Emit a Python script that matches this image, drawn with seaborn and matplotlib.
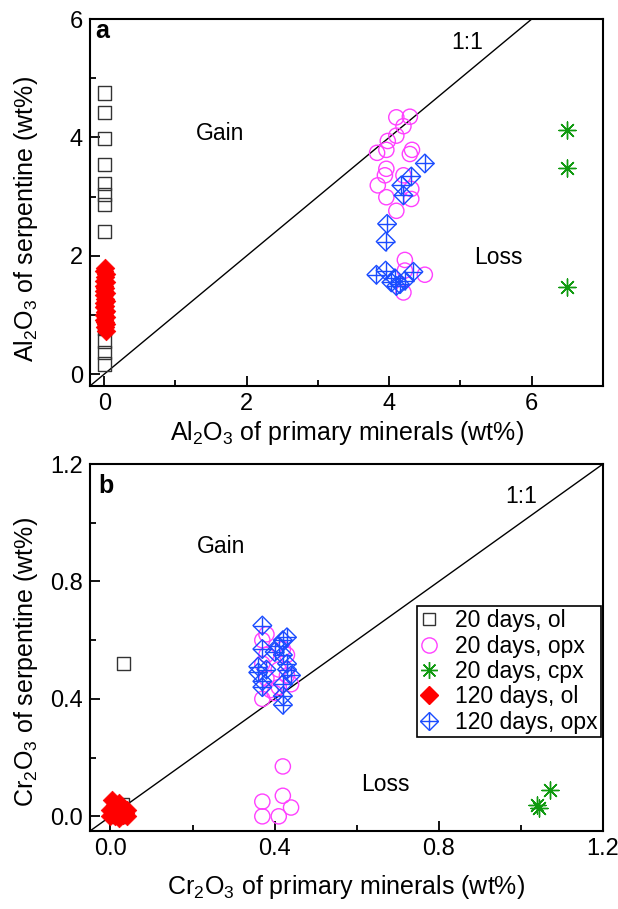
import matplotlib
matplotlib.use("Agg")
import matplotlib.pyplot as plt
from matplotlib.lines import Line2D
from matplotlib.legend_handler import HandlerTuple
from matplotlib.ticker import MultipleLocator, FormatStrFormatter
import seaborn as sns
import pandas as pd

# ---------------- Al2O3 (panel a) ----------------
al_ol20_x = [0.0, 0.0, 0.0, 0.0, 0.0, 0.0, 0.0, 0.0, 0.0, 0.0, 0.0, 0.0]
al_ol20_y = [4.75, 4.42, 3.98, 3.54, 3.22, 3.03, 2.86, 2.41, 0.78, 0.56, 0.37, 0.17]

al_opx20_x = [4.10, 4.29, 4.20, 4.10, 3.98, 3.96, 3.83, 4.29, 4.32, 3.96, 3.94,
              3.84, 4.20, 4.31, 3.96, 4.31, 4.10, 4.22, 4.50, 4.20, 4.22]
al_opx20_y = [4.34, 4.35, 4.19, 4.03, 3.94, 3.79, 3.74, 3.72, 3.79, 3.47, 3.36,
              3.19, 3.36, 3.13, 2.99, 2.96, 2.76, 1.93, 1.68, 1.38, 1.75]

al_cpx20_x = [6.50, 6.49, 6.50]
al_cpx20_y = [4.12, 3.49, 1.48]

al_ol120_x = [0.01, 0.00, 0.02, 0.01, -0.01, 0.02, 0.00, 0.01, -0.01, 0.02, 0.00, 0.01, 0.02,
              -0.01, 0.01, 0.00, 0.02, 0.01, -0.01, 0.02, 0.00, 0.01, 0.02, 0.01, 0.02]
al_ol120_y = [1.80, 1.74, 1.69, 1.64, 1.58, 1.55, 1.49, 1.46, 1.41, 1.37, 1.33, 1.27, 1.24,
              1.21, 1.15, 1.13, 1.07, 1.05, 1.00, 0.97, 0.91, 0.88, 0.85, 0.79, 0.73]

al_opx120_x = [4.50, 4.31, 4.17, 4.20, 3.97, 3.95, 3.82, 3.95, 4.03, 4.10, 4.22, 4.34, 4.15, 4.08]
al_opx120_y = [3.56, 3.34, 3.19, 3.02, 2.54, 2.24, 1.68, 1.75, 1.55, 1.49, 1.58, 1.73, 1.52, 1.62]

# ---------------- Cr2O3 (panel b) ----------------
cr_ol20_x = [0.031, 0.03, 0.01, 0.02]
cr_ol20_y = [0.52, 0.04, 0.01, 0.0]

cr_opx20_x = [0.37, 0.38, 0.37, 0.38, 0.37, 0.39, 0.41, 0.42, 0.43, 0.44, 0.41, 0.40,
              0.43, 0.38, 0.37, 0.37, 0.42, 0.42, 0.44, 0.41]
cr_opx20_y = [0.60, 0.55, 0.52, 0.47, 0.40, 0.43, 0.50, 0.57, 0.48, 0.45, 0.44, 0.42,
              0.55, 0.62, 0.05, 0.00, 0.17, 0.07, 0.03, 0.00]

cr_cpx20_x = [1.07, 1.04, 1.045]
cr_cpx20_y = [0.09, 0.04, 0.03]

cr_ol120_x = [0.004, 0.01, 0.02, 0.03, 0.04, 0.00, 0.01, 0.02, 0.03, 0.04, 0.01, 0.02,
              0.03, 0.00, 0.02, 0.035]
cr_ol120_y = [0.055, 0.04, 0.035, 0.03, 0.02, 0.02, 0.015, 0.01, 0.005, 0.0, 0.0, -0.005,
              0.03, 0.0, 0.045, 0.01]

cr_opx120_x = [0.37, 0.37, 0.36, 0.36, 0.37, 0.37, 0.40, 0.41, 0.42, 0.43, 0.42, 0.43,
               0.43, 0.42, 0.42, 0.42, 0.44, 0.38]
cr_opx120_y = [0.65, 0.57, 0.51, 0.49, 0.46, 0.44, 0.56, 0.58, 0.60, 0.61, 0.55, 0.52,
               0.50, 0.45, 0.41, 0.38, 0.48, 0.50]

series_names = ["20 days, ol", "20 days, opx", "20 days, cpx", "120 days, ol", "120 days, opx"]

sns.set_style("ticks")
plt.rcParams["font.family"] = ["Liberation Sans", "DejaVu Sans"]
plt.rcParams["mathtext.fontset"] = "custom"
plt.rcParams["mathtext.rm"] = "Liberation Sans"
plt.rcParams["mathtext.it"] = "Liberation Sans:italic"
plt.rcParams["mathtext.bf"] = "Liberation Sans:bold"
for key in ("text.color", "axes.labelcolor", "xtick.color", "ytick.color"):
    plt.rcParams[key] = "black"

C_OL20 = "#333333"
C_OPX20 = "#ff40ff"
C_CPX20 = "#109a10"
C_OL120 = "#ff0000"
C_OPX120 = "#1a4cff"

ASTER = (8, 2, 0)
TICK_FS = 17
LABEL_FS = 18
TEXT_FS = 16.5


def draw_panel(ax, d):
    df = lambda x, y: pd.DataFrame({"x": x, "y": y})
    sns.scatterplot(data=df(*d["ol20"]), x="x", y="y", ax=ax, marker="s", s=90,
                    facecolor="none", edgecolor=C_OL20, linewidth=1.0, zorder=3)
    sns.scatterplot(data=df(*d["opx20"]), x="x", y="y", ax=ax, marker="o", s=120,
                    facecolor="none", edgecolor=C_OPX20, linewidth=1.0, zorder=3)
    sns.scatterplot(data=df(*d["cpx20"]), x="x", y="y", ax=ax, marker=ASTER, s=150,
                    color=C_CPX20, linewidth=1.0, zorder=3)
    sns.scatterplot(data=df(*d["ol120"]), x="x", y="y", ax=ax, marker="D", s=90,
                    color=C_OL120, edgecolor=C_OL120, linewidth=0.5, zorder=4)
    sns.scatterplot(data=df(*d["opx120"]), x="x", y="y", ax=ax, marker="D", s=90,
                    facecolor="none", edgecolor=C_OPX120, linewidth=1.0, zorder=5)
    sns.scatterplot(data=df(*d["opx120"]), x="x", y="y", ax=ax, marker="+", s=180,
                    color=C_OPX120, linewidth=1.0, zorder=5)
    ax.axline((0, 0), slope=1, color="black", lw=1.0, zorder=2)


def style_axes(ax, major, minor):
    ax.xaxis.set_major_locator(MultipleLocator(major))
    ax.xaxis.set_minor_locator(MultipleLocator(minor))
    ax.yaxis.set_major_locator(MultipleLocator(major))
    ax.yaxis.set_minor_locator(MultipleLocator(minor))
    ax.tick_params(which="major", direction="in", length=7, width=1.3,
                   labelsize=TICK_FS, top=False, right=False, pad=5)
    ax.tick_params(which="minor", direction="in", length=4, width=1.3,
                   top=False, right=False)
    for sp in ax.spines.values():
        sp.set_visible(True)
        sp.set_linewidth(1.5)
        sp.set_color("black")


fig = plt.figure(figsize=(6.18, 9.09), dpi=100)
ax1 = fig.add_axes([0.1456, 0.5754, 0.830, 0.4036])
ax2 = fig.add_axes([0.1456, 0.0858, 0.830, 0.4037])

draw_panel(ax1, {"ol20": (al_ol20_x, al_ol20_y), "opx20": (al_opx20_x, al_opx20_y),
                 "cpx20": (al_cpx20_x, al_cpx20_y), "ol120": (al_ol120_x, al_ol120_y),
                 "opx120": (al_opx120_x, al_opx120_y)})
ax1.set_xlim(-0.2, 7.0)
ax1.set_ylim(-0.2, 6.0)
style_axes(ax1, 2, 1)
ax1.set_xlabel("Al$_\\mathregular{2}$O$_\\mathregular{3}$ of primary minerals (wt%)",
               fontsize=LABEL_FS)
ax1.set_ylabel("Al$_\\mathregular{2}$O$_\\mathregular{3}$ of serpentine (wt%)",
               fontsize=LABEL_FS)
ax1.xaxis.set_label_coords(0.5, -0.09)
ax1.yaxis.set_label_coords(-0.098, 0.455)
ax1.text(0.01, 0.948, "a", transform=ax1.transAxes, fontsize=18, fontweight="bold",
         va="baseline", ha="left")
ax1.text(1.62, 4.07, "Gain", fontsize=TEXT_FS, ha="center", va="center")
ax1.text(5.53, 1.97, "Loss", fontsize=TEXT_FS, ha="center", va="center")
ax1.text(5.09, 5.61, "1:1", fontsize=TEXT_FS, ha="center", va="center")

draw_panel(ax2, {"ol20": (cr_ol20_x, cr_ol20_y), "opx20": (cr_opx20_x, cr_opx20_y),
                 "cpx20": (cr_cpx20_x, cr_cpx20_y), "ol120": (cr_ol120_x, cr_ol120_y),
                 "opx120": (cr_opx120_x, cr_opx120_y)})
ax2.set_xlim(-0.05, 1.2)
ax2.set_ylim(-0.05, 1.2)
style_axes(ax2, 0.4, 0.2)
ax2.xaxis.set_major_formatter(FormatStrFormatter("%.1f"))
ax2.yaxis.set_major_formatter(FormatStrFormatter("%.1f"))
ax2.set_xlabel("Cr$_\\mathregular{2}$O$_\\mathregular{3}$ of primary minerals (wt%)",
               fontsize=LABEL_FS)
ax2.set_ylabel("Cr$_\\mathregular{2}$O$_\\mathregular{3}$ of serpentine (wt%)",
               fontsize=LABEL_FS)
ax2.xaxis.set_label_coords(0.5, -0.115)
ax2.yaxis.set_label_coords(-0.098, 0.46)
ax2.text(0.016, 0.921, "b", transform=ax2.transAxes, fontsize=18, fontweight="bold",
         va="baseline", ha="left")
ax2.text(0.27, 0.92, "Gain", fontsize=TEXT_FS, ha="center", va="center")
ax2.text(0.67, 0.11, "Loss", fontsize=TEXT_FS, ha="center", va="center")
ax2.text(1.0, 1.09, "1:1", fontsize=TEXT_FS, ha="center", va="center")

# legend with composite handle for the crossed diamonds
h_ol20 = Line2D([], [], ls="none", marker="s", ms=9, mfc="none", mec=C_OL20, mew=1.0)
h_opx20 = Line2D([], [], ls="none", marker="o", ms=11, mfc="none", mec=C_OPX20, mew=1.0)
h_cpx20 = Line2D([], [], ls="none", marker=ASTER, ms=12, color=C_CPX20, mew=1.0)
h_ol120 = Line2D([], [], ls="none", marker="D", ms=9.5, color=C_OL120)
h_opx120 = (Line2D([], [], ls="none", marker="D", ms=9.5, mfc="none", mec=C_OPX120, mew=1.0),
            Line2D([], [], ls="none", marker="+", ms=13.4, color=C_OPX120, mew=1.0))
leg = ax2.legend([h_ol20, h_opx20, h_cpx20, h_ol120, h_opx120], series_names,
                 handler_map={tuple: HandlerTuple(ndivide=1, pad=0)},
                 loc="upper left", bbox_to_anchor=(0.637, 0.613), borderaxespad=0,
                 fontsize=TEXT_FS, frameon=True, fancybox=False, edgecolor="black",
                 framealpha=1, handlelength=0.75, handletextpad=0.77,
                 labelspacing=0.1, borderpad=0.15)
leg.get_frame().set_linewidth(1.2)

fig.savefig("out.png", dpi=100)
